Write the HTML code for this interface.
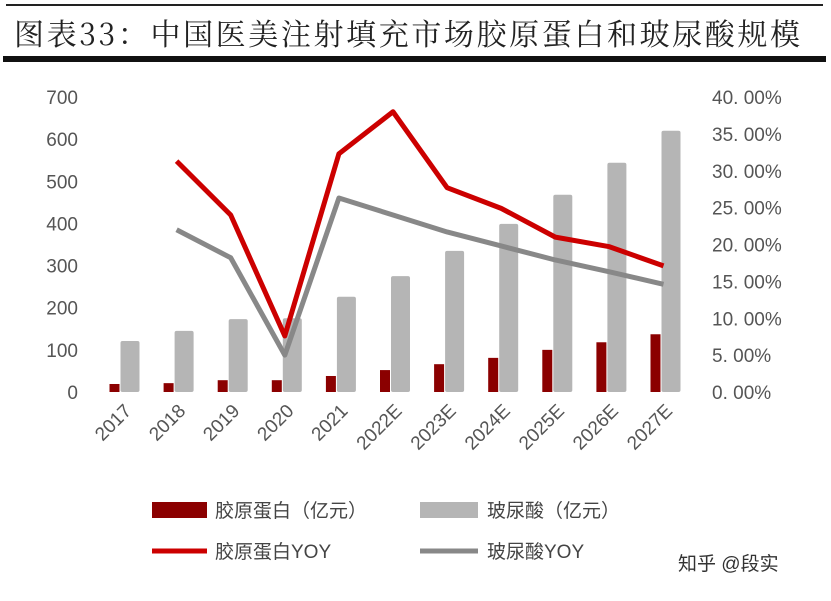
<!DOCTYPE html>
<html><head><meta charset="utf-8"><style>
body{margin:0;background:#fff;width:831px;height:596px;overflow:hidden;font-family:"Liberation Sans","Noto Sans CJK SC",sans-serif}
</style></head><body>
<svg width="831" height="596" xmlns="http://www.w3.org/2000/svg">
<rect x="6" y="4" width="817" height="2" fill="#222"/>
<text x="14" y="45" font-size="30" fill="#222" textLength="786" lengthAdjust="spacing" font-family="'Noto Serif CJK SC','Liberation Serif',serif">图表33：中国医美注射填充市场胶原蛋白和玻尿酸规模</text>
<rect x="3" y="56" width="823" height="6" fill="#111"/>
<g id="plot"></g>
<g>
<rect x="152" y="502" width="55" height="16" fill="#8b0000"/>
<text x="215" y="517" font-size="19" fill="#444">胶原蛋白（亿元）</text>
<rect x="420" y="502" width="58" height="16" fill="#b5b5b5"/>
<text x="487" y="517" font-size="19" fill="#444">玻尿酸（亿元）</text>
<line x1="152" y1="551" x2="207" y2="551" stroke="#cc0000" stroke-width="5"/>
<text x="215" y="558" font-size="19" fill="#444">胶原蛋白YOY</text>
<line x1="420" y1="551" x2="478" y2="551" stroke="#888" stroke-width="5"/>
<text x="487" y="558" font-size="19" fill="#444">玻尿酸YOY</text>
</g>
<text x="678" y="570" font-size="19" fill="#333">知乎 @段实</text>
</svg>
<script>
const categories=["2017","2018","2019","2020","2021","2022E","2023E","2024E","2025E","2026E","2027E"];
const collagen=[19,21,28,28,38,52,66,81,100,118,137];
const hyaluronic=[121,145,173,175,226,275,335,399,468,544,620];
const collagenYoy=[null,31.3,24.0,7.6,32.3,38.0,27.7,24.9,21.0,19.7,17.1];
const hyaluronicYoy=[null,22.0,18.2,5.0,26.3,24.0,21.7,19.8,17.9,16.3,14.6];
const leftTicks=[0,100,200,300,400,500,600,700];
const rightTicks=[0,5,10,15,20,25,30,35,40];
const NS="http://www.w3.org/2000/svg";
const g=document.getElementById('plot');
const y0=392,yTop=97;
const yL=v=>y0-(v/700)*(y0-yTop);
const yR=v=>y0-(v/40)*(y0-yTop);
const xC=i=>122.5+i*54.1;
function mk(t,a){const e=document.createElementNS(NS,t);for(const k in a)e.setAttribute(k,a[k]);g.appendChild(e);return e;}
leftTicks.forEach(v=>{const e=mk('text',{x:78,y:yL(v)+7,'font-size':19,fill:'#555','text-anchor':'end'});e.textContent=v;

});
rightTicks.forEach(v=>{const e=mk('text',{x:712,y:yR(v)+7,'font-size':19,fill:'#555'});e.textContent=v.toFixed(2).replace('.', '. ')+'%';

});
categories.forEach((c,i)=>{
const r=mk('rect',{x:xC(i)-13,y:yL(collagen[i]),width:10,height:y0-yL(collagen[i]),fill:'#8b0000'});


const h=mk('rect',{x:xC(i)-2,y:yL(hyaluronic[i]),width:19,height:y0-yL(hyaluronic[i]),fill:'#b5b5b5',rx:2});


const t=mk('text',{x:0,y:0,'font-size':19,fill:'#555','text-anchor':'end',transform:`translate(${xC(i)+10},${412}) rotate(-45)`});
t.textContent=c;


});
function line(arr,color,name){let d='';arr.forEach((v,i)=>{if(v==null)return;d+=(d?'L':'M')+xC(i)+','+yR(v);});
const p=mk('path',{d,fill:'none',stroke:color,'stroke-width':5,'stroke-linejoin':'round'});

}
line(hyaluronicYoy,'#888','line-hyaluronic-yoy');
line(collagenYoy,'#cc0000','line-collagen-yoy');
</script>
</body></html>
